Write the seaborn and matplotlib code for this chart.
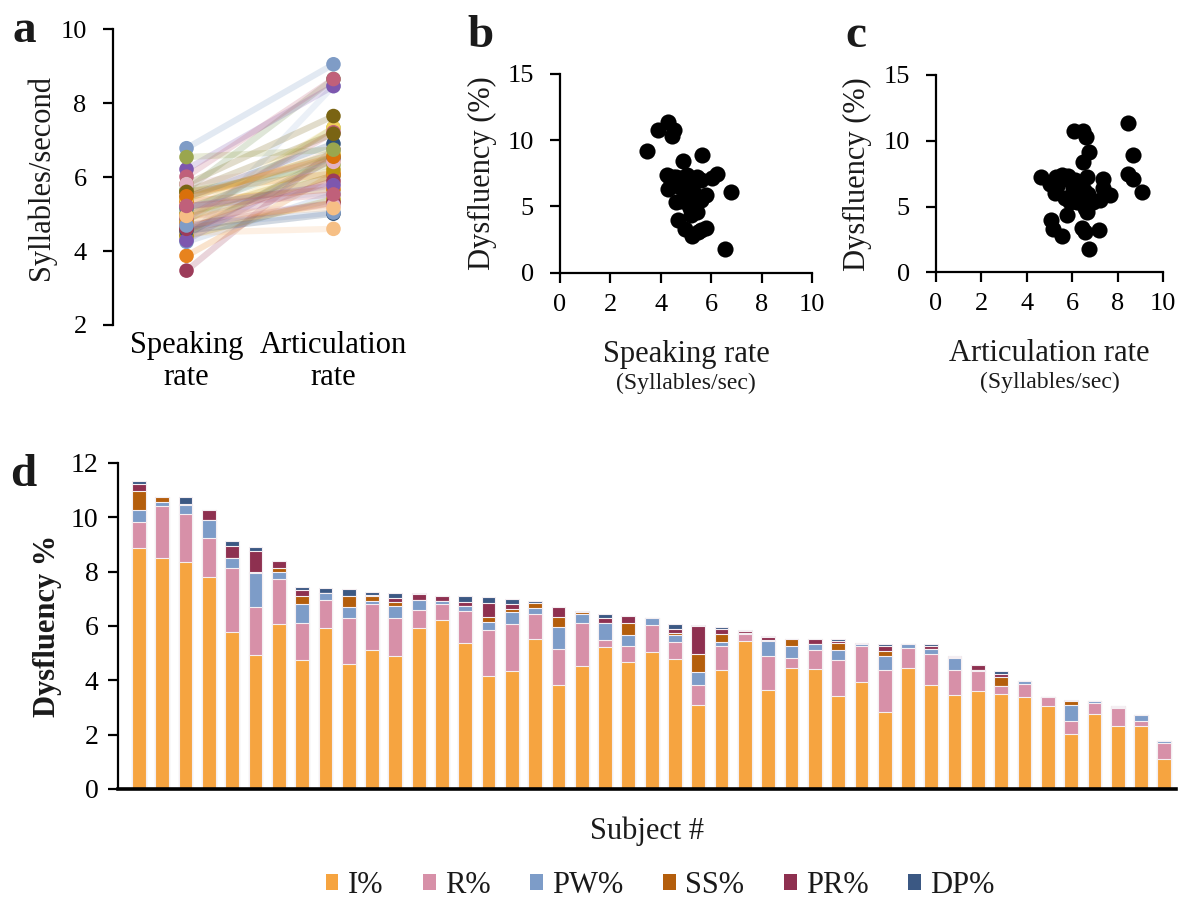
import numpy as np
import pandas as pd
import matplotlib
matplotlib.use('Agg')
import matplotlib.pyplot as plt
from matplotlib.patches import Patch
import seaborn as sns

# ---- data (one entry per subject, ordered by total dysfluency, panel d order) ----
speaking_rate = [4.29, 3.87, 4.52, 4.45, 3.47, 5.65, 4.86, 6.21, 4.25, 5.02,
                 4.49, 5.42, 4.60, 6.01, 4.80, 5.20, 5.60, 4.40, 4.55, 4.69,
                 4.89, 5.00, 4.29, 6.78, 4.95, 5.30, 5.81, 5.35, 4.89, 5.60,
                 5.10, 4.75, 5.00, 5.45, 4.60, 5.15, 5.42, 5.20, 4.69, 5.81,
                 4.95, 5.60, 5.48, 5.22, 6.54]
articulation_rate = [8.46, 6.07, 6.48, 6.58, 6.74, 8.65, 6.48, 8.46, 5.53, 5.82,
                     4.60, 6.63, 5.30, 8.65, 7.33, 5.60, 6.10, 5.40, 5.01, 5.31,
                     6.04, 7.33, 6.50, 9.05, 5.23, 6.70, 7.65, 5.67, 7.21, 6.33,
                     6.70, 6.05, 6.20, 6.90, 5.90, 6.55, 6.63, 5.78, 5.04, 6.41,
                     5.16, 7.17, 6.55, 5.53, 6.74]

# dysfluency types (% of syllables)
i_pct = [8.86, 8.49, 8.36, 7.80, 5.79, 4.93, 6.07, 4.75, 5.93, 4.61,
         5.12, 4.88, 5.93, 6.21, 5.39, 4.15, 4.34, 5.52, 3.83, 4.53,
         5.21, 4.66, 5.03, 4.80, 3.10, 4.38, 5.44, 3.66, 4.47, 4.43,
         3.42, 3.93, 2.83, 4.47, 3.83, 3.47, 3.61, 3.51, 3.37, 3.06,
         2.01, 2.77, 2.33, 2.33, 1.09]
r_pct = [0.96, 1.91, 1.77, 1.43, 2.34, 1.78, 1.65, 1.37, 1.01, 1.68,
         1.69, 1.41, 0.65, 0.59, 1.17, 1.69, 1.73, 0.92, 1.32, 1.58,
         0.27, 0.59, 1.01, 0.60, 0.73, 0.87, 0.28, 1.22, 0.36, 0.69,
         1.33, 1.32, 1.55, 0.73, 1.15, 0.91, 0.73, 0.28, 0.51, 0.31,
         0.51, 0.38, 0.65, 0.19, 0.59]
pw_pct = [0.45, 0.15, 0.32, 0.67, 0.36, 1.23, 0.27, 0.69, 0.27, 0.42,
          0.12, 0.46, 0.36, 0.13, 0.19, 0.32, 0.46, 0.21, 0.83, 0.33,
          0.63, 0.42, 0.25, 0.27, 0.46, 0.17, 0.04, 0.56, 0.42, 0.22,
          0.37, 0.09, 0.50, 0.14, 0.17, 0.43, 0.05, 0.00, 0.10, 0.00,
          0.58, 0.10, 0.04, 0.22, 0.10]
ss_pct = [0.69, 0.19, 0.00, 0.00, 0.00, 0.05, 0.14, 0.31, 0.00, 0.41,
          0.16, 0.12, 0.00, 0.00, 0.00, 0.16, 0.10, 0.18, 0.36, 0.06,
          0.00, 0.44, 0.00, 0.08, 0.69, 0.29, 0.00, 0.06, 0.26, 0.00,
          0.27, 0.00, 0.19, 0.00, 0.00, 0.05, 0.00, 0.32, 0.00, 0.00,
          0.13, 0.00, 0.04, 0.00, 0.00]
pr_pct = [0.27, 0.00, 0.04, 0.37, 0.47, 0.78, 0.27, 0.22, 0.00, 0.00,
          0.06, 0.15, 0.24, 0.19, 0.15, 0.53, 0.18, 0.00, 0.37, 0.06,
          0.18, 0.27, 0.00, 0.14, 1.02, 0.17, 0.04, 0.08, 0.00, 0.17,
          0.05, 0.05, 0.19, 0.00, 0.10, 0.04, 0.17, 0.14, 0.00, 0.00,
          0.00, 0.00, 0.00, 0.00, 0.00]
dp_pct = [0.10, 0.00, 0.25, 0.00, 0.18, 0.13, 0.00, 0.11, 0.19, 0.23,
          0.10, 0.19, 0.03, 0.00, 0.22, 0.23, 0.17, 0.10, 0.00, 0.00,
          0.14, 0.00, 0.00, 0.18, 0.04, 0.10, 0.04, 0.04, 0.00, 0.00,
          0.07, 0.00, 0.08, 0.00, 0.09, 0.00, 0.00, 0.09, 0.00, 0.00,
          0.06, 0.00, 0.00, 0.00, 0.00]

type_names = ['I%', 'R%', 'PW%', 'SS%', 'PR%', 'DP%']
type_colors = ['#f6a440', '#d790a8', '#7d9cc8', '#b45e0c', '#8e3050', '#3b5883']

subject_palette = ['#a7bfdd', '#e7831e', '#b8930f', '#2f5179', '#9c3c5a', '#70904f',
                   '#f0cf5a', '#7d57ae', '#7f9cc6', '#e3b2c3', '#f6bf85', '#7a6413',
                   '#d9700b', '#c0607a', '#9aa64e']

n = len(i_pct)
subjects = [f'S{k + 1:02d}' for k in range(n)]
comp = pd.DataFrame({'I%': i_pct, 'R%': r_pct, 'PW%': pw_pct,
                     'SS%': ss_pct, 'PR%': pr_pct, 'DP%': dp_pct}, index=subjects)
dysfluency = comp.sum(axis=1).values

sns.set_theme(style='ticks')
plt.rcParams['font.family'] = ['Liberation Serif', 'DejaVu Serif']
plt.rcParams['axes.linewidth'] = 1.6
plt.rcParams['axes.edgecolor'] = 'black'
plt.rcParams['xtick.color'] = 'black'
plt.rcParams['ytick.color'] = 'black'
plt.rcParams['text.color'] = '#1a1a1a'
plt.rcParams['axes.labelcolor'] = '#1a1a1a'

fig = plt.figure(figsize=(11.85, 9.02), dpi=100)
TICK = 19
LAB = 22

# ---- panel a: paired speaking / articulation rate ----
ax_a = fig.add_axes([0.0954, 0.6397, 0.248, 0.328])
pal = {s: subject_palette[k % len(subject_palette)] for k, s in enumerate(subjects)}
df_a = pd.DataFrame({
    'subject': subjects * 2,
    'pos': [0] * n + [1] * n,
    'rate': speaking_rate + articulation_rate,
})
sns.lineplot(data=df_a, x='pos', y='rate', hue='subject', palette=pal,
             alpha=0.22, linewidth=4.5, legend=False, ax=ax_a, estimator=None)
sns.scatterplot(data=df_a, x='pos', y='rate', hue='subject', palette=pal,
                s=110, linewidth=0, legend=False, ax=ax_a, zorder=3)
ax_a.set_xlim(-0.5, 1.5)
ax_a.set_ylim(2, 10)
ax_a.set_yticks([2, 4, 6, 8, 10])
ax_a.set_xticks([0, 1])
ax_a.set_xticklabels(['Speaking\nrate', 'Articulation\nrate'], fontsize=LAB,
                     linespacing=1.15)
ax_a.tick_params(axis='x', length=0, pad=4)
ax_a.tick_params(axis='y', labelsize=TICK, length=7, width=1.6, direction='out', pad=12)
for side in ['top', 'right', 'bottom']:
    ax_a.spines[side].set_visible(False)
ax_a.set_xlabel('')
ax_a.set_ylabel('Syllables/second', fontsize=LAB)
ax_a.yaxis.set_label_coords(-0.195, 0.5)

# ---- panels b and c: dysfluency vs rate ----
def rate_scatter(rect, x, xlabel, label_x):
    ax = fig.add_axes(rect)
    sns.scatterplot(x=x, y=dysfluency, color='black', s=135, linewidth=0, ax=ax)
    ax.set_xlim(0, 10)
    ax.set_ylim(0, 15)
    ax.set_xticks([0, 2, 4, 6, 8, 10])
    ax.set_yticks([0, 5, 10, 15])
    ax.tick_params(labelsize=TICK, length=7, width=1.6, direction='out')
    ax.tick_params(axis='y', pad=12)
    ax.tick_params(axis='x', pad=8)
    sns.despine(ax=ax)
    ax.set_ylabel('Dysfluency (%)', fontsize=LAB)
    ax.yaxis.set_label_coords(label_x, 0.5)
    ax.text(0.5, -0.41, xlabel, transform=ax.transAxes, ha='center', va='center',
            fontsize=LAB)
    ax.text(0.5, -0.555, '(Syllables/sec)', transform=ax.transAxes, ha='center',
            va='center', fontsize=17)
    return ax

ax_b = rate_scatter([0.4726, 0.6977, 0.2127, 0.2206], speaking_rate,
                    'Speaking rate', -0.25)
ax_c = rate_scatter([0.7899, 0.698, 0.1918, 0.219], articulation_rate,
                    'Articulation rate', -0.28)

# ---- panel d: stacked dysfluency types per subject ----
ax_d = fig.add_axes([0.0996, 0.1253, 0.8928, 0.3614])
cum = comp.cumsum(axis=1)
for name, color in reversed(list(zip(type_names, type_colors))):
    sns.barplot(x=subjects, y=cum[name].values, color=color, saturation=1,
                width=0.59, edgecolor='#f4eef2', linewidth=0.8, ax=ax_d)
ax_d.set_xlim(-0.9, n - 0.5)
ax_d.set_ylim(0, 12)
ax_d.set_yticks(range(0, 13, 2))
ax_d.set_xticks([])
ax_d.tick_params(axis='y', labelsize=20, length=7, width=1.6, direction='out', pad=7)
sns.despine(ax=ax_d)
ax_d.spines['bottom'].set_linewidth(2.6)
ax_d.set_ylabel('Dysfluency %', fontsize=LAB, fontweight='bold')
ax_d.yaxis.set_label_coords(-0.053, 0.5)
ax_d.set_xlabel('Subject #', fontsize=LAB)
ax_d.xaxis.set_label_coords(0.5, -0.085)

handles = [Patch(facecolor=c, edgecolor='none') for c in type_colors]
fig.legend(handles, type_names, loc='center', bbox_to_anchor=(0.557, 0.018),
           ncol=6, frameon=False, fontsize=LAB, handlelength=0.42,
           handleheight=0.42, handletextpad=0.3, columnspacing=1.3)

# panel letters
for letter, (px, py) in {'a': (12, 42), 'b': (467, 47), 'c': (845, 47),
                         'd': (10, 486)}.items():
    fig.text(px / 1185, 1 - py / 902, letter, fontsize=34, fontweight='bold',
             va='baseline', ha='left')

fig.savefig('out.png', dpi=100)
